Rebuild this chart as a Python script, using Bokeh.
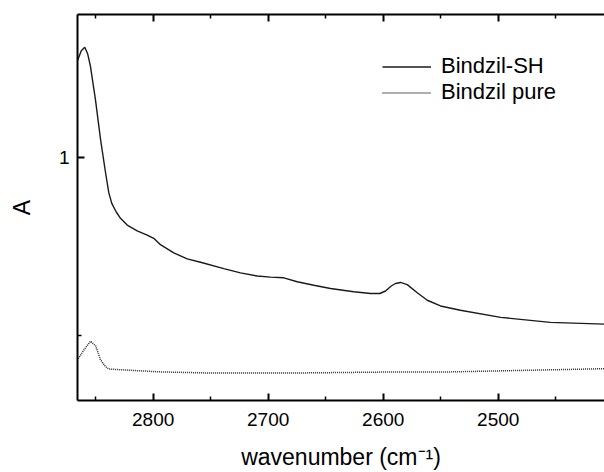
from bokeh.plotting import figure
from bokeh.models import Range1d, FixedTicker, LinearAxis, Legend, LegendItem
from bokeh.embed import file_html
from bokeh.resources import INLINE

# ---- data ----
sh_wn = [2865.6, 2862.5, 2859.5, 2857.0, 2854.5, 2850.2, 2845.8, 2841.5, 2838.6,
         2836.0, 2832.0, 2828.4, 2822.6, 2813.9, 2805.2, 2799.5, 2793.7, 2782.1,
         2770.4, 2758.0, 2738.6, 2724.1, 2709.6, 2698.0, 2686.4, 2674.8, 2660.3,
         2645.8, 2625.6, 2611.0, 2603.0, 2598.0, 2593.0, 2589.3, 2585.0, 2579.1,
         2570.4, 2561.7, 2550.2, 2532.9, 2497.9, 2454.6, 2407.6]
sh_abs = [1.272, 1.298, 1.308, 1.290, 1.254, 1.161, 1.050, 0.958, 0.900,
          0.870, 0.845, 0.828, 0.809, 0.793, 0.781, 0.772, 0.754, 0.731,
          0.714, 0.704, 0.687, 0.675, 0.666, 0.663, 0.661, 0.650, 0.640,
          0.631, 0.622, 0.617, 0.617, 0.624, 0.638, 0.645, 0.648, 0.642,
          0.619, 0.598, 0.582, 0.570, 0.550, 0.536, 0.531]

pure_wn = [2865.2, 2859.5, 2854.5, 2850.0, 2845.8, 2841.5, 2838.6, 2822.6,
           2793.7, 2753.0, 2672.0, 2585.0, 2541.5, 2407.6]
pure_abs = [0.434, 0.462, 0.483, 0.470, 0.431, 0.412, 0.405, 0.402,
            0.397, 0.394, 0.394, 0.397, 0.397, 0.406]

series_labels = ["Bindzil-SH", "Bindzil pure"]
x_major = [2800, 2700, 2600, 2500]
x_minor = [2850, 2750, 2650, 2550, 2450]
y_major = [1]
y_minor = [0.5]

FONT = "Liberation Sans"

p = figure(width=604, height=472, output_backend="svg", toolbar_location=None,
           x_range=Range1d(2865.8, 2407.6), y_range=Range1d(0.3167, 1.4),
           min_border_left=77, min_border_right=0, min_border_top=14,
           min_border_bottom=68)
p.outline_line_color = None
p.grid.visible = False
p.background_fill_color = "white"


def style_axis(ax, ticker):
    ax.ticker = ticker
    ax.axis_line_width = 2
    ax.axis_line_color = "black"
    ax.major_tick_in = 7
    ax.major_tick_out = 0
    ax.minor_tick_in = 4
    ax.minor_tick_out = 0
    ax.major_tick_line_width = 2
    ax.minor_tick_line_width = 1.5
    ax.major_tick_line_color = "black"
    ax.minor_tick_line_color = "black"
    ax.major_label_text_font = FONT
    ax.major_label_text_font_size = "19px"
    ax.major_label_text_color = "black"
    ax.axis_label_text_font = FONT
    ax.axis_label_text_font_style = "normal"
    ax.axis_label_text_font_size = "23px"
    ax.axis_label_text_color = "black"


xt = FixedTicker(ticks=x_major, minor_ticks=x_minor)
yt = FixedTicker(ticks=y_major, minor_ticks=y_minor)

xa = p.xaxis[0]
style_axis(xa, xt)
xa.major_label_standoff = 12
xa.axis_label = "wavenumber (cm⁻¹)"
xa.axis_label_standoff = 15

ya = p.yaxis[0]
style_axis(ya, yt)
ya.major_label_standoff = 8
ya.axis_label = "A"
ya.axis_label_standoff = 21

top = LinearAxis()
style_axis(top, FixedTicker(ticks=x_major, minor_ticks=x_minor))
top.major_label_text_font_size = "1px"
top.major_label_text_color = None
top.major_label_standoff = 0
p.add_layout(top, "above")

r1 = p.line(sh_wn, sh_abs, line_color="#1a1a1a", line_width=1.4)
r2 = p.line(pure_wn, pure_abs, line_color="#2a2a2a", line_width=1.5, line_dash="1 1")

legend = Legend(items=[LegendItem(label=series_labels[0], renderers=[r1]),
                       LegendItem(label=series_labels[1], renderers=[r2])],
                location=(305, 295), border_line_color=None,
                background_fill_alpha=0, padding=0, margin=0, spacing=0,
                glyph_width=49, glyph_height=25, label_height=25,
                label_standoff=10, label_text_font=FONT,
                label_text_font_size="22px", label_text_color="black")
p.add_layout(legend)

open("out.html", "w").write(file_html(p, INLINE))
